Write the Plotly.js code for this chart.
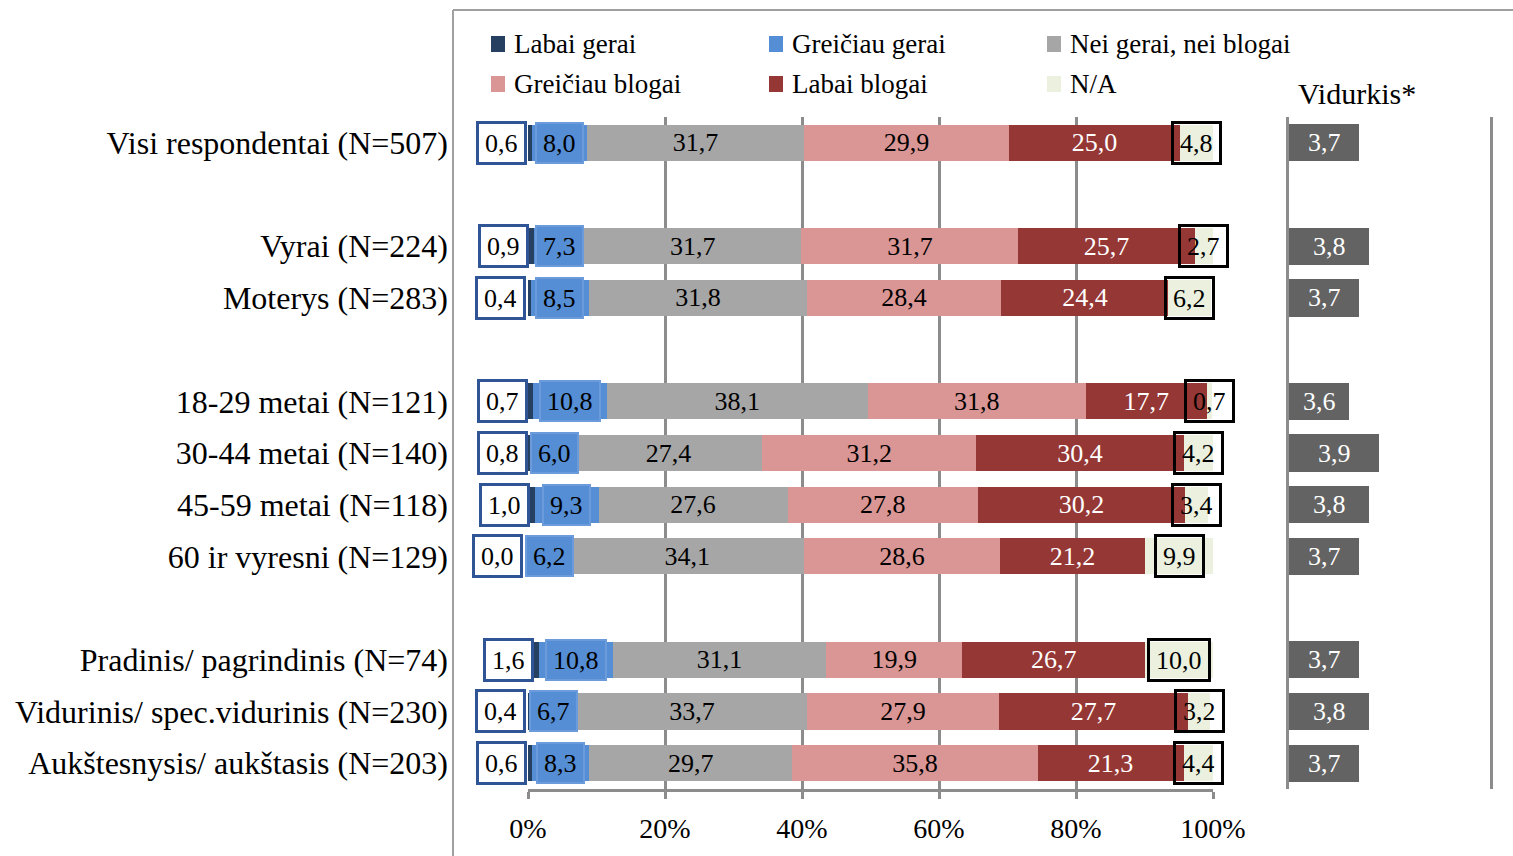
<!DOCTYPE html>
<html>
<head>
<meta charset="utf-8">
<script src="https://cdn.plot.ly/plotly-3.0.1.min.js"></script>
<style>html,body{margin:0;padding:0;background:#fff;}#chart{width:1513px;height:856px;}</style>
</head>
<body>
<div id="chart"></div>
<script>
// ---- data ----
var categories = ['Visi respondentai (N=507)', 'Vyrai (N=224)', 'Moterys (N=283)',
  '18-29 metai (N=121)', '30-44 metai (N=140)', '45-59 metai (N=118)', '60 ir vyresni (N=129)',
  'Pradinis/ pagrindinis (N=74)', 'Vidurinis/ spec.vidurinis (N=230)', 'Aukštesnysis/ aukštasis (N=203)'];
var groupSizes = [1, 2, 4, 3];
var seriesNames = ['Labai gerai', 'Greičiau gerai', 'Nei gerai, nei blogai', 'Greičiau blogai', 'Labai blogai', 'N/A'];
var labaiGerai     = [0.6, 0.9, 0.4, 0.7, 0.8, 1.0, 0.0, 1.6, 0.4, 0.6];
var greiciauGerai  = [8.0, 7.3, 8.5, 10.8, 6.0, 9.3, 6.2, 10.8, 6.7, 8.3];
var neiGeraiNei    = [31.7, 31.7, 31.8, 38.1, 27.4, 27.6, 34.1, 31.1, 33.7, 29.7];
var greiciauBlogai = [29.9, 31.7, 28.4, 31.8, 31.2, 27.8, 28.6, 19.9, 27.9, 35.8];
var labaiBlogai    = [25.0, 25.7, 24.4, 17.7, 30.4, 30.2, 21.2, 26.7, 27.7, 21.3];
var naValues       = [4.8, 2.7, 6.2, 0.7, 4.2, 3.4, 9.9, 10.0, 3.2, 4.4];
var vidurkis       = [3.7, 3.8, 3.7, 3.6, 3.9, 3.8, 3.7, 3.7, 3.8, 3.7];
var xTicks = [0, 20, 40, 60, 80, 100];
var xTickText = ['0%', '20%', '40%', '60%', '80%', '100%'];
var vidurkisTitle = 'Vidurkis*';

// ---- styling ----
var FONT = 'Liberation Serif, Times New Roman, serif';
var colors = ['#254061', '#558ED5', '#A6A6A6', '#D99694', '#953735', '#EBF1DE'];
var W = 1513, H = 856;
function px(x) { return x / W; }
function py(y) { return 1 - y / H; }
function fmt(v) { return v.toFixed(1).replace('.', ','); }

// slots: each group followed by an empty slot
var slots = [];
var pos = 0;
groupSizes.forEach(function (n) { for (var i = 0; i < n; i++) { slots.push(pos); pos++; } pos++; });
var maxSlot = slots[slots.length - 1];
var vRange = [3, 5];

var series = [labaiGerai, greiciauGerai, neiGeraiNei, greiciauBlogai, labaiBlogai, naValues];
var traces = [];
series.forEach(function (vals, si) {
  var t = {
    type: 'bar', orientation: 'h', name: seriesNames[si],
    x: vals, y: slots, width: 0.7,
    marker: { color: colors[si], line: { width: 0 } },
    xaxis: 'x', yaxis: 'y', showlegend: false, hoverinfo: 'x+name'
  };
  if (si >= 2 && si <= 4) {
    t.texttemplate = '%{x:.1f}';
    t.textposition = 'inside';
    t.insidetextanchor = 'middle';
    t.textangle = 0;
    t.constraintext = 'none';
    t.textfont = { family: FONT, size: 26, color: si === 4 ? '#ffffff' : '#000000' };
  }
  traces.push(t);
});
traces.push({
  type: 'bar', orientation: 'h', name: vidurkisTitle,
  x: vidurkis, y: slots, width: 0.72,
  marker: { color: '#636363' },
  xaxis: 'x2', yaxis: 'y2', showlegend: false, cliponaxis: true
});

var annotations = [];
var shapes = [];
for (var i = 0; i < categories.length; i++) {
  var c0 = labaiGerai[i];
  var c1 = c0 + greiciauGerai[i];
  var cTot = c1 + neiGeraiNei[i] + greiciauBlogai[i] + labaiBlogai[i];
  annotations.push({
    x: c0, y: slots[i], xref: 'x', yref: 'y', xanchor: 'right', xshift: -5,
    text: fmt(labaiGerai[i]), showarrow: false,
    font: { family: FONT, size: 26, color: '#000' },
    bgcolor: '#ffffff', bordercolor: '#2F5597', borderwidth: 3, borderpad: 6, height: 26
  });
  annotations.push({
    x: (c0 + c1) / 2, y: slots[i], xref: 'x', yref: 'y',
    text: fmt(greiciauGerai[i]), showarrow: false,
    font: { family: FONT, size: 26, color: '#000' },
    bgcolor: colors[1], bordercolor: '#6C9BDB', borderwidth: 2, borderpad: 6, height: 26
  });
  annotations.push({
    x: cTot + naValues[i] / 2, y: slots[i], xref: 'x', yref: 'y',
    text: fmt(naValues[i]), showarrow: false,
    font: { family: FONT, size: 26, color: '#000' },
    bgcolor: 'rgba(0,0,0,0)', bordercolor: '#000000', borderwidth: 3, borderpad: 6, height: 26
  });
  // Vidurkis label
  annotations.push({
    x: (vRange[0] + vidurkis[i]) / 2, y: slots[i], xref: 'x2', yref: 'y2',
    text: fmt(vidurkis[i]), showarrow: false,
    font: { family: FONT, size: 26, color: '#ffffff' }
  });
}

// manual legend
var legendPos = [[491, 44], [769, 44], [1047, 44], [491, 84], [769, 84], [1047, 84]];
seriesNames.forEach(function (nm, si) {
  var lx = legendPos[si][0], ly = legendPos[si][1];
  shapes.push({ type: 'rect', xref: 'paper', yref: 'paper',
    x0: px(lx), x1: px(lx + 14), y0: py(ly + 8), y1: py(ly - 8),
    fillcolor: colors[si], line: { width: 0 } });
  annotations.push({ xref: 'paper', yref: 'paper', x: px(lx + 21), y: py(ly), xanchor: 'left', yanchor: 'middle',
    text: nm, showarrow: false, font: { family: FONT, size: 27, color: '#000' } });
});
annotations.push({ xref: 'paper', yref: 'paper', x: px(1357), y: py(93), xanchor: 'center', yanchor: 'middle',
  text: vidurkisTitle, showarrow: false, font: { family: FONT, size: 30, color: '#000' } });

// frame lines
shapes.push({ type: 'line', xref: 'paper', yref: 'paper', x0: px(453), x1: px(453), y0: py(10), y1: 0,
  line: { color: '#A0A0A0', width: 2 } });
shapes.push({ type: 'line', xref: 'paper', yref: 'paper', x0: px(453), x1: 1, y0: py(10), y1: py(10),
  line: { color: '#A0A0A0', width: 2 } });

var yDomain = [py(789), py(117)];
var layout = {
  width: W, height: H, margin: { l: 0, r: 0, t: 0, b: 0 },
  paper_bgcolor: '#ffffff', plot_bgcolor: 'rgba(0,0,0,0)',
  barmode: 'stack', separators: ',.', showlegend: false,
  font: { family: FONT, size: 28, color: '#000' },
  xaxis: {
    domain: [px(528), px(1213)], range: [0, 100], fixedrange: true,
    tickvals: xTicks, ticktext: xTickText, showgrid: true, gridcolor: '#8C8C8C', gridwidth: 3,
    showline: true, linecolor: '#8C8C8C', linewidth: 3, zeroline: false,
    ticks: 'outside', ticklen: 7, tickwidth: 3, tickcolor: '#8C8C8C', ticklabelstandoff: 5,
    tickfont: { family: FONT, size: 28, color: '#000' }, anchor: 'y', layer: 'below traces'
  },
  yaxis: {
    domain: yDomain, range: [maxSlot + 0.5, -0.5], fixedrange: true,
    tickvals: slots, ticktext: categories, ticks: '', showgrid: false, zeroline: false, showline: false,
    ticklabelstandoff: 79, tickfont: { family: FONT, size: 32, color: '#000' }, anchor: 'x'
  },
  xaxis2: {
    domain: [px(1289), px(1490)], range: vRange, fixedrange: true,
    showticklabels: false, showgrid: false, zeroline: false, showline: false, ticks: '', anchor: 'y2'
  },
  yaxis2: {
    domain: yDomain, range: [maxSlot + 0.5, -0.5], fixedrange: true,
    showticklabels: false, showgrid: false, zeroline: false, ticks: '',
    showline: true, mirror: true, linecolor: '#8C8C8C', linewidth: 3, anchor: 'x2'
  },
  annotations: annotations, shapes: shapes
};
Plotly.newPlot('chart', traces, layout, { displayModeBar: false, staticPlot: true });
</script>
</body>
</html>
